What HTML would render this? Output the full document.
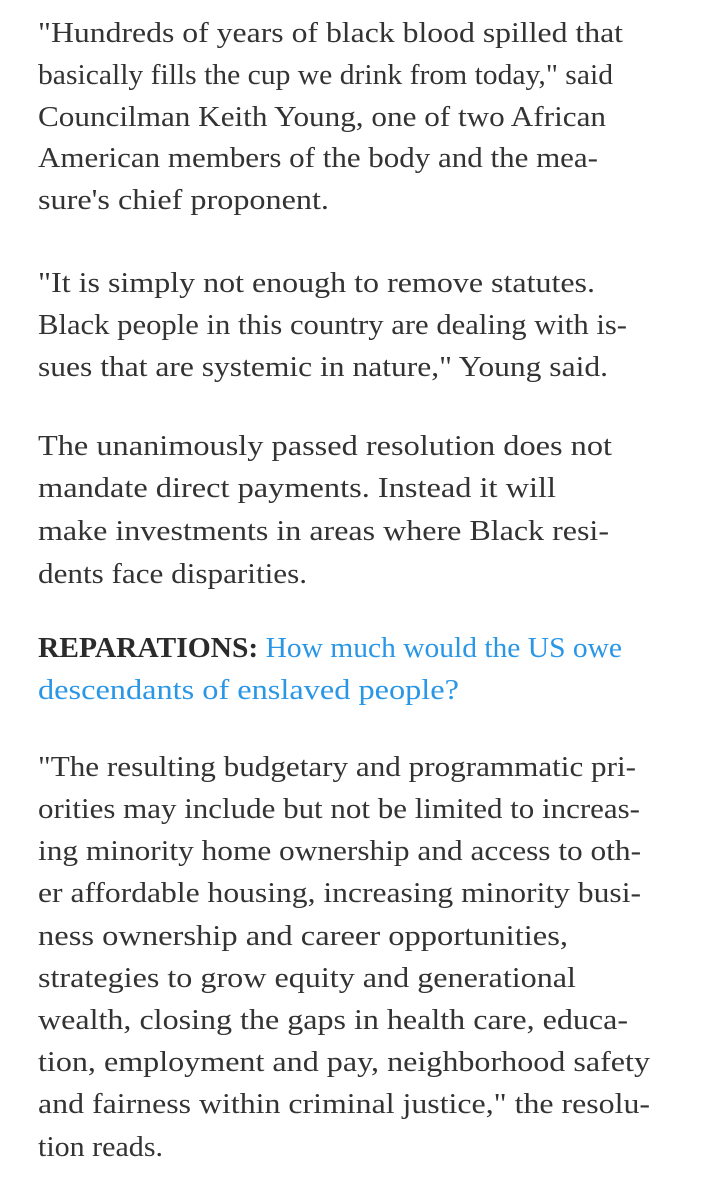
<!DOCTYPE html>
<html><head><meta charset="utf-8"><style>
html,body{margin:0;padding:0;background:#fff;width:703px;height:1200px;overflow:hidden}
svg text{font-family:"Liberation Serif",serif;font-size:28px;fill:#333}
</style></head><body>
<svg width="703" height="1200">
<g>
<text x="38" y="42" textLength="585" lengthAdjust="spacingAndGlyphs">"Hundreds of years of black blood spilled that</text>
<text x="38" y="84" textLength="575" lengthAdjust="spacingAndGlyphs">basically fills the cup we drink from today," said</text>
<text x="38" y="126" textLength="568" lengthAdjust="spacingAndGlyphs">Councilman Keith Young, one of two African</text>
<text x="38" y="167" textLength="560" lengthAdjust="spacingAndGlyphs">American members of the body and the mea-</text>
<text x="38" y="209" textLength="291" lengthAdjust="spacingAndGlyphs">sure's chief proponent.</text>
</g>
<g>
<text x="38" y="292" textLength="557" lengthAdjust="spacingAndGlyphs">"It is simply not enough to remove statutes.</text>
<text x="38" y="334" textLength="589" lengthAdjust="spacingAndGlyphs">Black people in this country are dealing with is-</text>
<text x="38" y="376" textLength="570" lengthAdjust="spacingAndGlyphs">sues that are systemic in nature," Young said.</text>
</g>
<g>
<text x="38" y="455" textLength="574" lengthAdjust="spacingAndGlyphs">The unanimously passed resolution does not</text>
<text x="38" y="497" textLength="518" lengthAdjust="spacingAndGlyphs">mandate direct payments. Instead it will</text>
<text x="38" y="540" textLength="571" lengthAdjust="spacingAndGlyphs">make investments in areas where Black resi-</text>
<text x="38" y="583" textLength="269" lengthAdjust="spacingAndGlyphs">dents face disparities.</text>
</g>
<g>
<text x="38" y="657" textLength="584" lengthAdjust="spacingAndGlyphs"><tspan font-weight="bold" fill="#2b2b2b">REPARATIONS:</tspan><tspan fill="#2a96e6"> How much would the US owe</tspan></text>
<text x="38" y="699" textLength="421" lengthAdjust="spacingAndGlyphs" style="fill:#2a96e6">descendants of enslaved people?</text>
</g>
<g>
<text x="38" y="776" textLength="598" lengthAdjust="spacingAndGlyphs">"The resulting budgetary and programmatic pri-</text>
<text x="38" y="818" textLength="602" lengthAdjust="spacingAndGlyphs">orities may include but not be limited to increas-</text>
<text x="38" y="860" textLength="603" lengthAdjust="spacingAndGlyphs">ing minority home ownership and access to oth-</text>
<text x="38" y="902" textLength="603" lengthAdjust="spacingAndGlyphs">er affordable housing, increasing minority busi-</text>
<text x="38" y="945" textLength="530" lengthAdjust="spacingAndGlyphs">ness ownership and career opportunities,</text>
<text x="38" y="987" textLength="538" lengthAdjust="spacingAndGlyphs">strategies to grow equity and generational</text>
<text x="38" y="1029" textLength="590" lengthAdjust="spacingAndGlyphs">wealth, closing the gaps in health care, educa-</text>
<text x="38" y="1071" textLength="612" lengthAdjust="spacingAndGlyphs">tion, employment and pay, neighborhood safety</text>
<text x="38" y="1113" textLength="612" lengthAdjust="spacingAndGlyphs">and fairness within criminal justice," the resolu-</text>
<text x="38" y="1156" textLength="125" lengthAdjust="spacingAndGlyphs">tion reads.</text>
</g>
</svg>
</body></html>
